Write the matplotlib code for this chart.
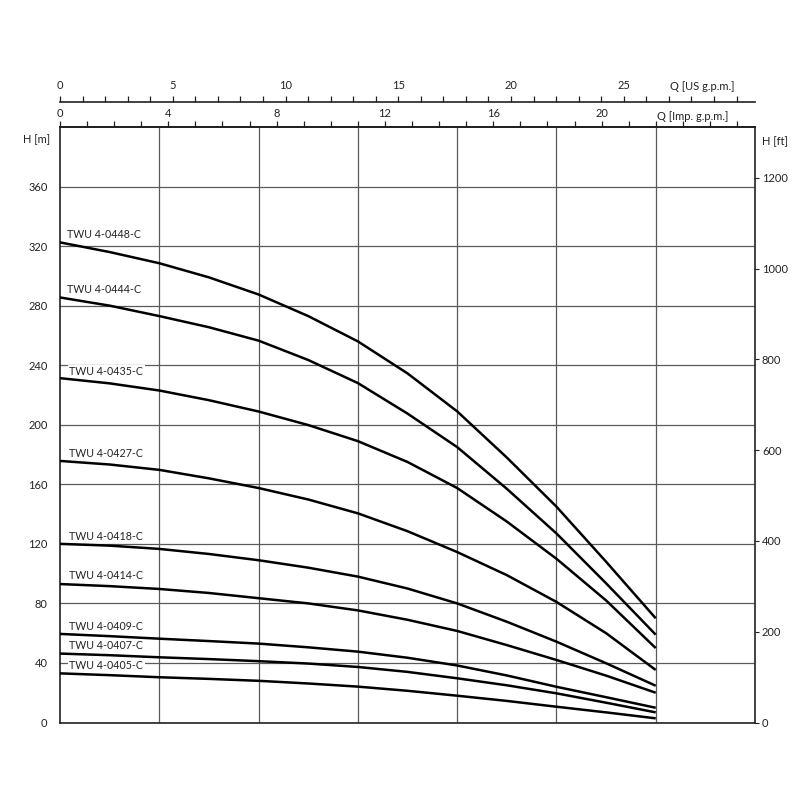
import matplotlib
matplotlib.use("Agg")
import matplotlib.pyplot as plt
from matplotlib.ticker import FixedLocator, NullFormatter

plt.rcParams['font.family'] = ['Lato', 'DejaVu Sans']

# ---- data (Q in m3/h, H in m) ----
Q = [0, 0.5, 1, 1.5, 2, 2.5, 3, 3.5, 4, 4.5, 5, 5.5, 6]
models = ["TWU 4-0448-C", "TWU 4-0444-C", "TWU 4-0435-C", "TWU 4-0427-C",
          "TWU 4-0418-C", "TWU 4-0414-C", "TWU 4-0409-C", "TWU 4-0407-C",
          "TWU 4-0405-C"]
H_0448 = [322.5, 316.0, 308.5, 299.0, 287.5, 273.0, 256.0, 234.5, 209.0, 178.0, 145.0, 108.0, 70.0]
H_0444 = [285.5, 280.0, 273.0, 265.5, 256.5, 243.5, 228.0, 207.5, 185.0, 157.0, 127.0, 93.5, 59.0]
H_0435 = [231.3, 227.8, 223.0, 216.5, 208.9, 199.8, 189.0, 175.0, 157.5, 135.0, 110.0, 82.0, 50.0]
H_0427 = [175.7, 173.3, 169.7, 164.0, 157.5, 149.8, 140.5, 128.5, 114.5, 99.0, 81.0, 60.0, 35.3]
H_0418 = [120.0, 118.8, 116.6, 113.2, 109.0, 104.0, 98.0, 90.0, 80.0, 67.7, 54.3, 39.8, 24.7]
H_0414 = [93.0, 91.6, 89.7, 87.0, 83.5, 80.0, 75.3, 69.0, 61.5, 52.0, 42.0, 31.5, 20.0]
H_0409 = [59.5, 58.0, 56.3, 54.7, 53.0, 50.5, 47.6, 43.5, 38.3, 31.6, 24.0, 17.0, 9.9]
H_0407 = [46.3, 45.2, 43.8, 42.6, 41.2, 39.6, 37.3, 34.0, 29.7, 25.0, 19.6, 13.3, 6.8]
H_0405 = [33.0, 31.8, 30.4, 29.3, 28.0, 26.2, 24.1, 21.3, 18.0, 14.5, 10.6, 6.8, 2.8]
curves = [H_0448, H_0444, H_0435, H_0427, H_0418, H_0414, H_0409, H_0407, H_0405]

y_ticks_m = [0, 40, 80, 120, 160, 200, 240, 280, 320, 360]
y_ticks_ft = [0, 200, 400, 600, 800, 1000, 1200]
imp_major = [0, 4, 8, 12, 16, 20]
us_major = [0, 5, 10, 15, 20, 25]

# layout constants for curve labels (Q, H)
label_x = [0.07, 0.07, 0.095, 0.095, 0.095, 0.095, 0.095, 0.095, 0.095]
label_y = [327.6, 290.7, 235.8, 180.4, 124.9, 98.5, 64.4, 51.4, 38.2]

IMP = 3.66614   # imp gpm per m3/h
US = 4.40287    # US gpm per m3/h
FT = 3.28084

fig = plt.figure(figsize=(8, 8), dpi=100)
ax = fig.add_axes([60/800, 1-722.5/800, 695/800, 595.5/800])
ax.set_xlim(0, 7)
ax.set_ylim(0, 400)

txtc = '#222222'
gridc = '#5a5a5a'

for s in ax.spines.values():
    s.set_color('#222222')
    s.set_linewidth(1.2)

ax.set_xticks(range(1, 7))
ax.tick_params(axis='x', bottom=False, labelbottom=False, top=False, labeltop=False)
ax.set_yticks(y_ticks_m)
ax.tick_params(axis='y', length=0, pad=9, labelsize=8, labelcolor=txtc)
ax.grid(True, color=gridc, linewidth=0.9, zorder=1)
ax.set_axisbelow(True)

for H, name, lx, ly in zip(curves, models, label_x, label_y):
    ax.plot(Q, H, color='black', linewidth=1.8, zorder=4, solid_capstyle='butt',
            solid_joinstyle='round')
    ax.text(lx, ly, name, fontsize=7.7, color=txtc, ha='left', va='center', zorder=3,
            bbox=dict(facecolor='white', edgecolor='none', pad=1.0))

# right axis in feet
axr = ax.secondary_yaxis('right', functions=(lambda h: h * FT, lambda f: f / FT))
axr.set_yticks(y_ticks_ft)
axr.tick_params(length=3, width=0.8, pad=2, labelsize=8, labelcolor=txtc, color='#222222')
axr.spines['right'].set_visible(False)

# top axis: Imp gpm
ax_imp = ax.secondary_xaxis(1.0, functions=(lambda q: q * IMP, lambda g: g / IMP))
ax_imp.xaxis.set_major_locator(FixedLocator(imp_major))
ax_imp.xaxis.set_minor_locator(FixedLocator([i for i in range(0, 26) if i not in imp_major]))
ax_imp.xaxis.set_minor_formatter(NullFormatter())
ax_imp.tick_params(which='both', direction='out', length=4, width=0.9, pad=1.5,
                   labelsize=8, labelcolor=txtc, color='#222222')
ax_imp.spines['top'].set_linewidth(1.2)

# top axis: US gpm
ax_us = ax.secondary_xaxis(1 + 25/595.5, functions=(lambda q: q * US, lambda g: g / US))
ax_us.xaxis.set_major_locator(FixedLocator(us_major))
ax_us.xaxis.set_minor_locator(FixedLocator([i for i in range(0, 31) if i not in us_major]))
ax_us.xaxis.set_minor_formatter(NullFormatter())
ax_us.tick_params(which='both', direction='out', length=4, width=0.9, pad=4,
                  labelsize=8, labelcolor=txtc, color='#222222')
ax_us.spines['top'].set_linewidth(1.2)
ax_us.spines['top'].set_color('#222222')

fig.text(50/800, 1-140/800, "H [m]", ha='right', va='center', fontsize=8, color=txtc)
fig.text(762/800, 1-142/800, "H [ft]", ha='left', va='center', fontsize=8, color=txtc)
fig.text(657/800, 1-116/800, "Q [Imp. g.p.m.]", ha='left', va='center', fontsize=8, color=txtc)
fig.text(670/800, 1-86/800, "Q [US g.p.m.]", ha='left', va='center', fontsize=8, color=txtc)

fig.savefig("out.png", dpi=100, facecolor='white')
